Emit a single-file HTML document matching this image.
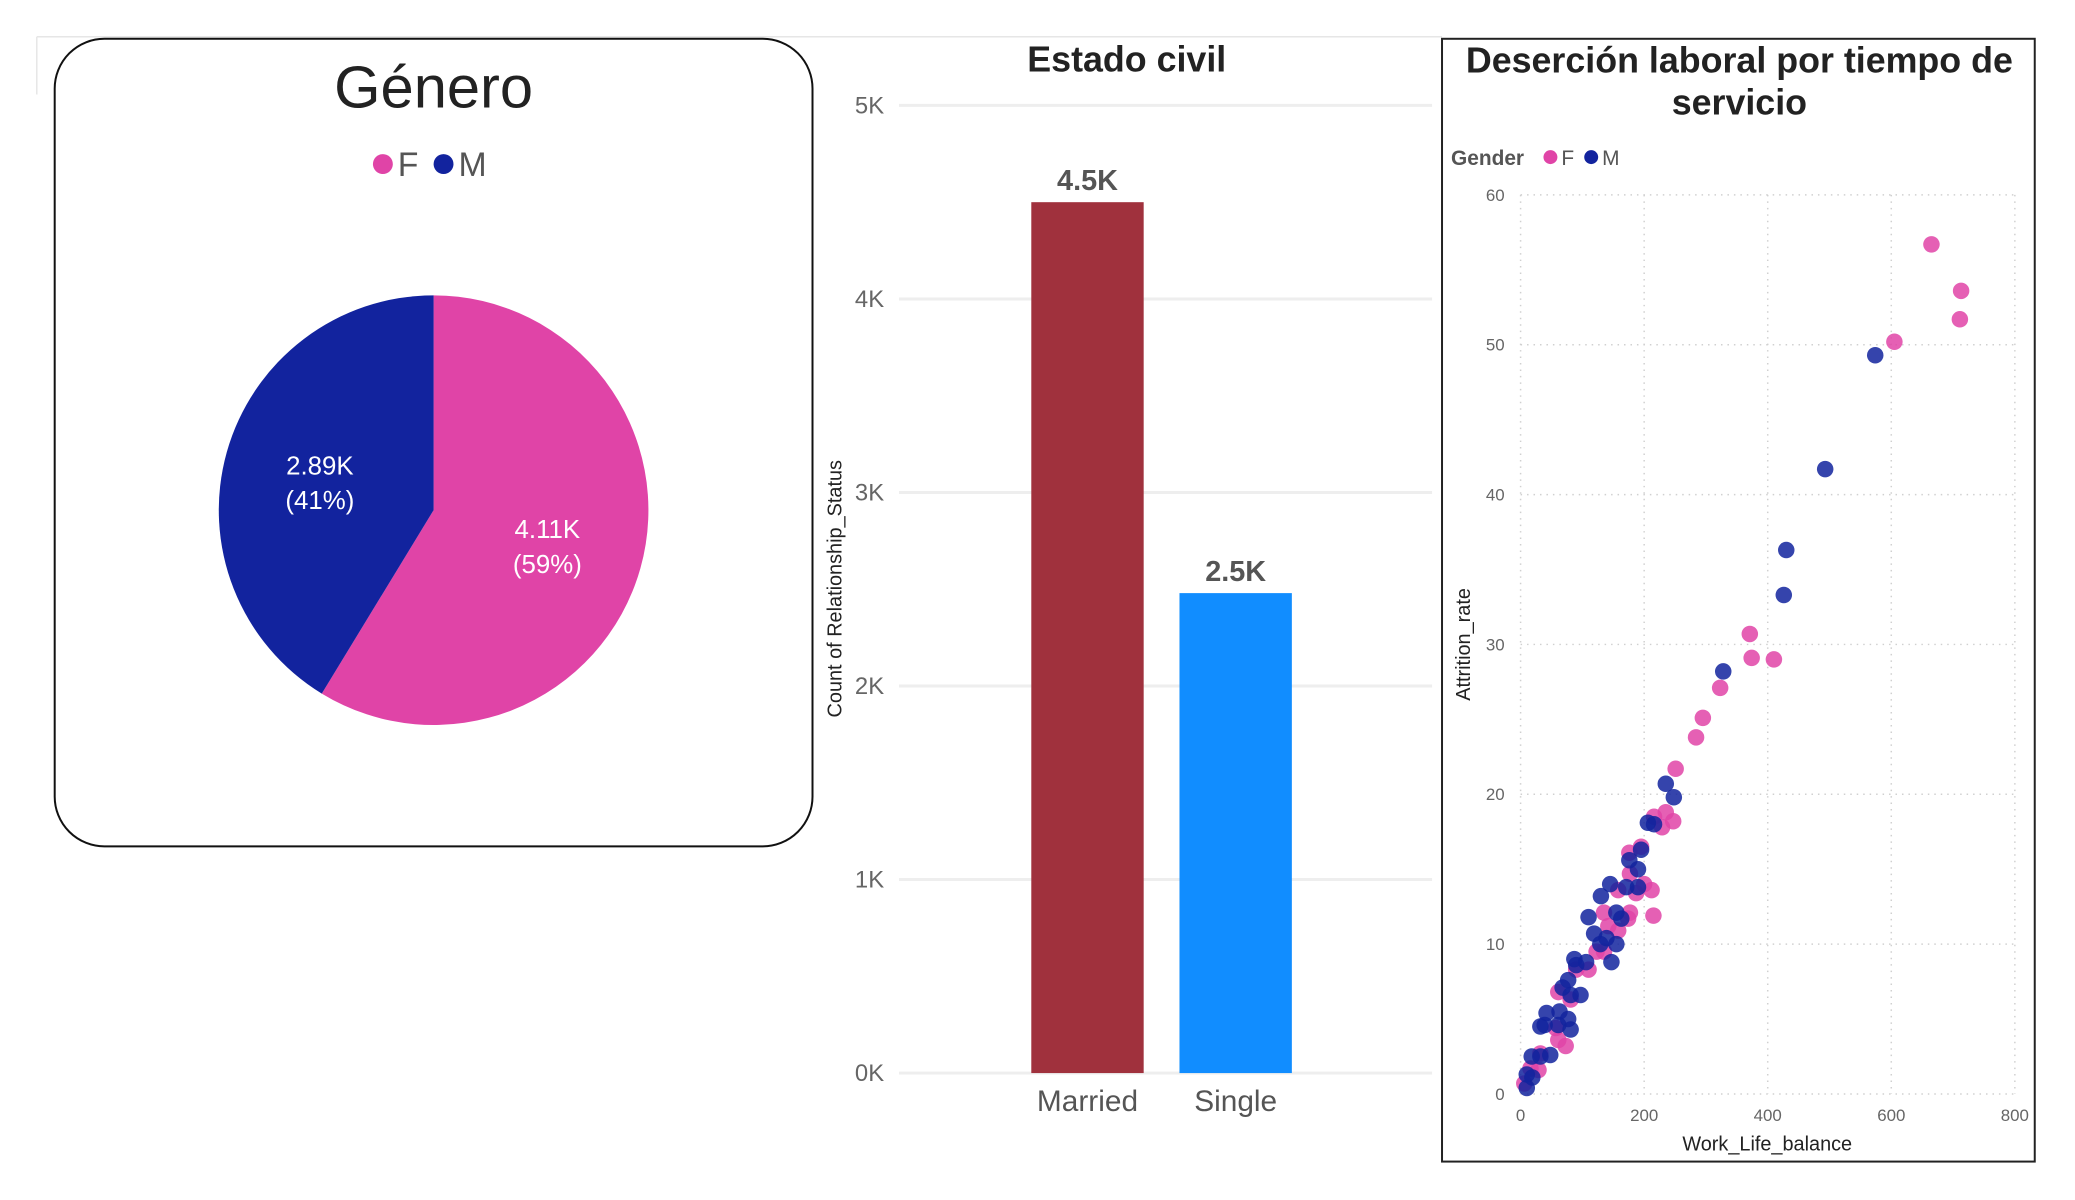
<!DOCTYPE html>
<html><head><meta charset="utf-8">
<style>
html,body{margin:0;padding:0;background:#fff;width:2075px;height:1200px;overflow:hidden}
svg{display:block}
text{font-family:"Liberation Sans",sans-serif}
.cond{font-family:"Liberation Sans Narrow","Liberation Sans",sans-serif}
</style></head>
<body>
<svg id="root" width="2075" height="1200" viewBox="0 0 2075 1200">
<g transform="scale(0.9945)">
  <line x1="37" y1="37" x2="1450" y2="37" stroke="#e6e6e6" stroke-width="1.5"/>
  <line x1="37" y1="37" x2="37" y2="95" stroke="#e6e6e6" stroke-width="1.5"/>
  <g id="pie-card">
    <rect x="55" y="39" width="762" height="812" rx="50" ry="50" fill="#fff" stroke="#111" stroke-width="2"/>
    <text x="436" y="108" text-anchor="middle" font-size="60" fill="#222" class="cond">Génerо</text>
    <g>
      <circle cx="385" cy="165" r="10" fill="#E044A7"/>
      <text x="400" y="177" font-size="34" fill="#555">F</text>
      <circle cx="446" cy="165" r="10" fill="#12239E"/>
      <text x="461" y="177" font-size="34" fill="#555">M</text>
    </g>
    <g id="pie"></g>
  </g>
  <g id="bar">
    <text x="1133" y="72" text-anchor="middle" font-size="36" font-weight="bold" fill="#222" class="cond">Estado civil</text>
    <text transform="translate(846,592) rotate(-90)" text-anchor="middle" font-size="20" fill="#222">Count of Relationship_Status</text>
  </g>
  <g id="scatter">
    <rect x="1450" y="39" width="596" height="1129" fill="#fff" stroke="#222" stroke-width="2"/>
    <text x="1749" y="73" text-anchor="middle" font-size="36" font-weight="bold" fill="#222" class="cond">Deserción laboral por tiempo de</text>
    <text x="1749" y="115" text-anchor="middle" font-size="36" font-weight="bold" fill="#222" class="cond">servicio</text>
    <text x="1459" y="166" font-size="21" font-weight="bold" fill="#555">Gender</text>
    <circle cx="1559" cy="158" r="7" fill="#E044A7"/>
    <text x="1570" y="166" font-size="21" fill="#555">F</text>
    <circle cx="1600" cy="158" r="7" fill="#12239E"/>
    <text x="1611" y="166" font-size="21" fill="#555">M</text>
    <text x="1777" y="1157" text-anchor="middle" font-size="20" fill="#222">Work_Life_balance</text>
    <text transform="translate(1478,648) rotate(-90)" text-anchor="middle" font-size="20" fill="#222" class="cond">Attrition_rate</text>
  </g>
</g>
</svg>
<script>
const pieLabels = ["F","M"];
const pieValues = [4110, 2890];
const pieText = ["4.11K","2.89K"];
const barCategories = ["Married","Single"];
const barValues = [4500, 2480];
const barText = ["4.5K","2.5K"];
const barTicks = [0,1000,2000,3000,4000,5000];
const barTickLabels = ["0K","1K","2K","3K","4K","5K"];
const fX = [665,713,711,605,371,374,410,323,295,284,251,235,216,229,247,195,176,177,200,212,187,158,215,177,174,135,142,158,123,135,110,90,61,81,57,61,73,32,29,16,6];
const fY = [56.7,53.6,51.7,50.2,30.7,29.1,29.0,27.1,25.1,23.8,21.7,18.8,18.5,17.8,18.2,16.5,16.1,14.7,14.0,13.6,13.4,13.6,11.9,12.1,11.7,12.1,11.2,10.9,9.5,9.5,8.3,8.3,6.8,6.3,4.4,3.6,3.2,2.7,1.6,1.7,0.7];
const mX = [574,493,430,426,328,235,248,206,216,195,176,190,190,171,145,130,155,163,110,119,139,129,155,147,106,87,90,97,77,68,81,42,63,77,61,81,39,32,48,32,18,19,10,10];
const mY = [49.3,41.7,36.3,33.3,28.2,20.7,19.8,18.1,18.0,16.3,15.6,15.0,13.8,13.8,14.0,13.2,12.1,11.7,11.8,10.7,10.4,10.0,10.0,8.8,8.8,9.0,8.6,6.6,7.6,7.1,6.6,5.4,5.5,5.0,4.6,4.3,4.6,4.5,2.6,2.5,2.5,1.1,1.3,0.4];
const xTicks = [0,200,400,600,800];
const yTicks = [0,10,20,30,40,50,60];

const NS = "http://www.w3.org/2000/svg";
function mk(parent, tag, attrs, txt){
  const e = document.createElementNS(NS, tag);
  for (const k in attrs) e.setAttribute(k, attrs[k]);
  if (txt !== undefined) e.textContent = txt;
  parent.appendChild(e);
  return e;
}

(function(){
  const g = document.getElementById("pie");
  const cx = 436, cy = 513, r = 216;
  const colors = ["#E044A7","#12239E"];
  const total = pieValues.reduce((a,b)=>a+b,0);
  let a0 = -Math.PI/2;
  pieValues.forEach((v,i)=>{
    const a1 = a0 + v/total*2*Math.PI;
    const x0 = cx + r*Math.cos(a0), y0 = cy + r*Math.sin(a0);
    const x1 = cx + r*Math.cos(a1), y1 = cy + r*Math.sin(a1);
    const large = (a1-a0) > Math.PI ? 1 : 0;
    const p = mk(g, "path", {d:`M${cx},${cy} L${x0},${y0} A${r},${r} 0 ${large} 1 ${x1},${y1} Z`, fill:colors[i]});
    
    
    const am = (a0+a1)/2, lr = r*0.55;
    const lx = cx + lr*Math.cos(am), ly = cy + lr*Math.sin(am);
    const t1 = mk(g, "text", {x:lx, y:ly-4, "text-anchor":"middle", "font-size":26, fill:"#fff"}, pieText[i]);
    
    
    const pct = Math.round(v/total*100);
    const t2 = mk(g, "text", {x:lx, y:ly+31, "text-anchor":"middle", "font-size":26, fill:"#fff"}, "(" + pct + "%)");
    
    
    a0 = a1;
  });
})();

(function(){
  const g = document.getElementById("bar");
  const y0 = 1079, yTop = 106, vmax = 5000;
  const yS = v => y0 - v/vmax*(y0-yTop);
  barTicks.forEach((t,i)=>{
    const l = mk(g, "line", {x1:904, x2:1440, y1:yS(t), y2:yS(t), stroke:"#eeeeee", "stroke-width":3});
    
    
    const tx = mk(g, "text", {x:889, y:yS(t)+8, "text-anchor":"end", "font-size":24, fill:"#666", class:"cond"}, barTickLabels[i]);
    
    
  });
  const colors = ["#A0313D","#118DFF"];
  const x0 = 1037, step = 149, bw = 113;
  barCategories.forEach((c,i)=>{
    const x = x0 + i*step;
    const b = mk(g, "rect", {x:x, y:yS(barValues[i]), width:bw, height:y0-yS(barValues[i]), fill:colors[i]});
    
    
    const vl = mk(g, "text", {x:x+bw/2, y:yS(barValues[i])-12, "text-anchor":"middle", "font-size":29, "font-weight":"bold", fill:"#555", class:"cond"}, barText[i]);
    
    
    const cl = mk(g, "text", {x:x+bw/2, y:1117, "text-anchor":"middle", "font-size":30, fill:"#555"}, c);
    
    
  });
})();

(function(){
  const g = document.getElementById("scatter");
  const xL = 1529, xR = 2026, yB = 1100, yT = 196;
  const xS = v => xL + v/800*(xR-xL);
  const yS = v => yB - v/60*(yB-yT);
  xTicks.forEach(t=>{
    const l = mk(g, "line", {x1:xS(t), x2:xS(t), y1:yT, y2:yB, stroke:"#d0d0d0", "stroke-dasharray":"1.5,5", "stroke-width":1.5});
    
    
    const tx = mk(g, "text", {x:xS(t), y:yB+27, "text-anchor":"middle", "font-size":17, fill:"#666"}, String(t));
    
    
  });
  yTicks.forEach(t=>{
    const l = mk(g, "line", {x1:xL, x2:xR, y1:yS(t), y2:yS(t), stroke:"#d0d0d0", "stroke-dasharray":"1.5,5", "stroke-width":1.5});
    
    
    const tx = mk(g, "text", {x:xL-16, y:yS(t)+6, "text-anchor":"end", "font-size":17, fill:"#666"}, String(t));
    
    
  });
  fX.forEach((x,i)=>{
    const c = mk(g, "circle", {cx:xS(x), cy:yS(fY[i]), r:8.3, fill:"#E044A7", "fill-opacity":0.85});
    
    
  });
  mX.forEach((x,i)=>{
    const c = mk(g, "circle", {cx:xS(x), cy:yS(mY[i]), r:8.3, fill:"#12239E", "fill-opacity":0.85});
    
    
  });
})();
</script>
</body></html>
